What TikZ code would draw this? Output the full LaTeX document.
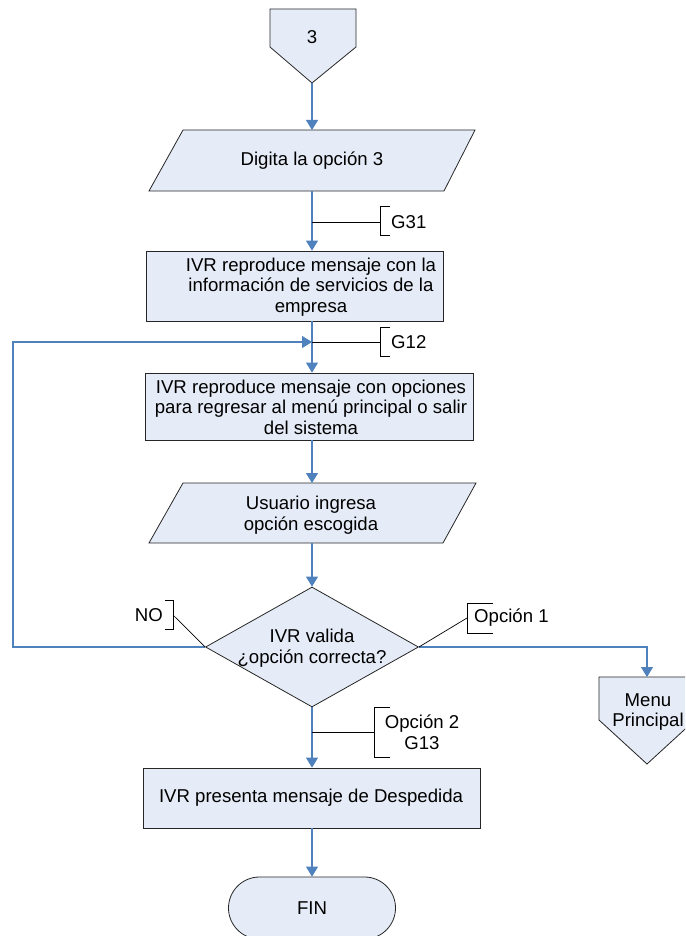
\documentclass[tikz,border=0pt]{standalone}
\usepackage{fontspec}
\setmainfont{Liberation Sans}
\usetikzlibrary{arrows.meta,shapes.geometric,shapes.misc}
\definecolor{shapefill}{RGB}{230,236,247}
\definecolor{flowblue}{RGB}{79,129,189}
\newcommand{\chartfont}{\fontsize{18.6}{20.5}\selectfont}
\begin{document}
\begin{tikzpicture}[x=1pt,y=-1pt,
  shapeline/.style={draw=black!85, fill=shapefill, line width=0.8pt},
  flow/.style={draw=flowblue, line width=1.1pt, -{Triangle[length=10pt,width=12pt]}},
  note/.style={draw=black, line width=0.7pt},
  txt/.style={font=\chartfont, align=center, inner sep=0pt},
  processbox/.style={shapeline, rectangle, inner sep=0pt}]
\clip (0,0) rectangle (685,936);

% off-page connector "3"
\draw[shapeline] (270,9) -- (356,9) -- (356,47) -- (312,83) -- (270,47) -- cycle;
\node[txt] (c3) at (312,37) {3};
\coordinate (c3tip) at (312,83);

% input: option 3
\draw[shapeline] (183,130) -- (475,130) -- (444,191) -- (149,191) -- cycle;
\node[txt] (in1) at (312,161) {Digita la opción 3};
\coordinate (in1top) at (312,130);
\coordinate (in1bot) at (312,191);

% process boxes
\node[processbox, minimum width=297pt, minimum height=70pt] (b1) at (294.5,286) {};
\node[txt] (b1t) at (311,287) {IVR reproduce mensaje con la\\información de servicios de la\\empresa};

\node[processbox, minimum width=328pt, minimum height=67pt] (b2) at (309,406.5) {};
\node[txt] (b2t) at (311,407) {IVR reproduce mensaje con opciones\\para regresar al menú principal o salir\\del sistema};

% input: chosen option
\draw[shapeline] (183,483) -- (476,483) -- (443,543) -- (149,543) -- cycle;
\node[txt] (in2) at (311,515) {Usuario ingresa\\opción escogida};
\coordinate (in2top) at (312,483);
\coordinate (in2bot) at (312,543);

% decision
\node[diamond, shapeline, inner sep=0pt, minimum width=213pt, minimum height=120pt] (dec) at (312,647) {};
\node[txt] (dect) at (312,648) {IVR valida\\¿opción correcta?};

% farewell and end
\node[processbox, minimum width=337pt, minimum height=60pt] (b3) at (312,798) {};
\node[txt] (b3t) at (311,798) {IVR presenta mensaje de Despedida};
\node[rounded rectangle, shapeline, inner sep=0pt, minimum width=167pt, minimum height=62pt, font=\chartfont] (fin) at (312,908) {FIN};

% off-page connector to main menu
\draw[shapeline] (599,677) -- (695,677) -- (695,720) -- (647,764) -- (599,720) -- cycle;
\node[txt] (menu) at (648,712) {Menu\\Principal};
\coordinate (menutop) at (647,677);

% main flow
\draw[flow] (c3tip) -- (in1top);
\draw[flow] (in1bot) -- (b1.north -| c3tip);
\draw[flow] (b1.south -| c3tip) -- (b2.north -| c3tip);
\draw[flow] (b2.south -| c3tip) -- (in2top);
\draw[flow] (in2bot) -- (dec.north);
\draw[flow] (dec.south) -- (b3.north);
\draw[flow] (b3.south) -- (fin.north);

% retry loop and main-menu branch
\coordinate (t12) at (312,342);
\draw[flow] (dec.west) -- (13,647) -- (13,342) -- (t12);
\draw[flow] (dec.east) -- (647,647) -- (menutop);

% annotation G31
\coordinate (t31) at (312,222);
\coordinate (g31b) at (380,222);
\draw[note] (t31) -- (g31b);
\draw[note] (390,206) -- (380,206) -- (380,235) -- (390,235);
\node[txt, anchor=west] (g31) at (391,222) {G31};

% annotation G12
\coordinate (g12b) at (380,342);
\draw[note] (t12) -- (g12b);
\draw[note] (390,327) -- (380,327) -- (380,356) -- (390,356);
\node[txt, anchor=west] (g12) at (391,342) {G12};

% annotation NO
\coordinate (nob) at (173,615);
\draw[note] (dec.west) -- (nob);
\draw[note] (165,600) -- (173,600) -- (173,629) -- (165,629);
\node[txt, anchor=east] (no) at (163,615) {NO};

% annotation option 1
\coordinate (op1b) at (467,618);
\draw[note] (dec.east) -- (op1b);
\draw[note] (493,603) -- (467,603) -- (467,633) -- (493,633);
\node[txt, anchor=west] (op1) at (474,618) {Opción 1};

% annotation option 2 / G13
\coordinate (t13) at (312,732);
\coordinate (op2b) at (374,732);
\draw[note] (t13) -- (op2b);
\draw[note] (390,707) -- (374,707) -- (374,757) -- (390,757);
\node[txt] (op2) at (422,732) {Opción 2\\G13};
\end{tikzpicture}
\end{document}
